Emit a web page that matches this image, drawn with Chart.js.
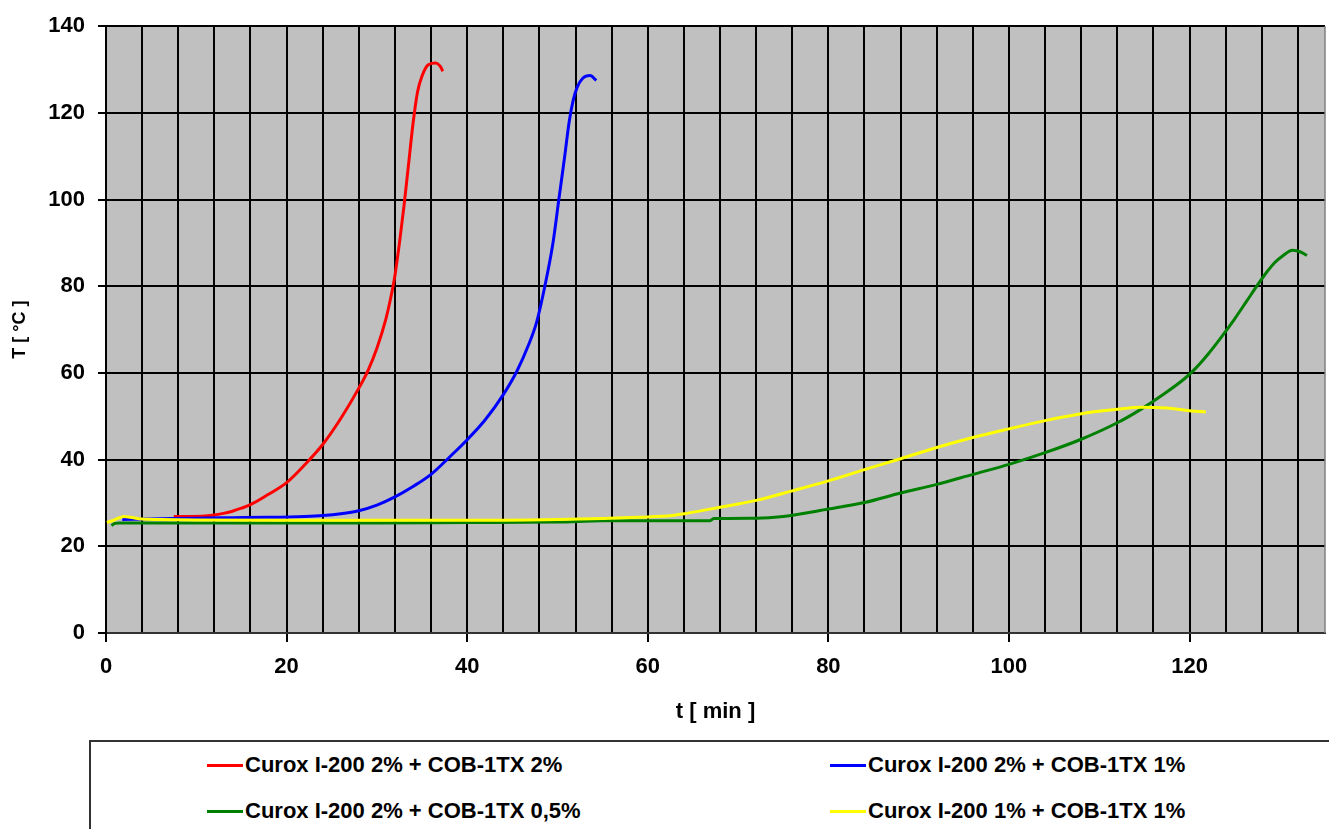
<!DOCTYPE html>
<html>
<head>
<meta charset="utf-8">
<script src="https://cdn.jsdelivr.net/npm/chart.js@4/dist/chart.umd.min.js"></script>
<style>
html,body{margin:0;padding:0;background:#fff;width:1329px;height:829px;overflow:hidden;font-family:"Liberation Sans",Arial,sans-serif;}
#wrap{position:absolute;left:0;top:0;width:1329px;height:740px;}
#legend{position:absolute;left:89px;top:740px;width:1300px;height:150px;border:2px solid #333;box-sizing:border-box;}
.item{position:absolute;display:flex;align-items:center;font-weight:bold;font-size:22px;color:#000;white-space:nowrap;height:30px;line-height:30px;}
.sw{width:36px;height:3px;margin-right:2px;}
</style>
</head>
<body>
<div id="wrap"><canvas id="c" width="1329" height="740"></canvas></div>
<div id="legend"></div>
<script>
// ---- data ----
const seriesLabels = [
  'Curox I-200 2% + COB-1TX 2%',
  'Curox I-200 2% + COB-1TX 1%',
  'Curox I-200 2% + COB-1TX 0,5%',
  'Curox I-200 1% + COB-1TX 1%'
];
const redX = [7.5, 9, 11, 12, 13, 14, 15, 16, 18, 20, 22, 24, 26, 28, 29, 30, 31, 31.5, 32, 32.5, 33, 33.5, 34, 34.5, 35, 35.7, 36.5, 37, 37.3];
const redY = [26.9, 26.9, 27.0, 27.2, 27.6, 28.1, 28.8, 29.6, 32.0, 34.7, 38.8, 43.5, 49.5, 56.5, 60.5, 65.7, 72.5, 77, 82.5, 90, 98.5, 108, 117.5, 124.8, 128.5, 131.1, 131.5, 130.8, 129.6];
const blueX = [1.8, 5, 10, 14, 18, 22, 24, 26, 28, 30, 32, 34, 36, 38, 40, 42, 44, 45.5, 46.8, 47.7, 48.6, 49.5, 50.15, 50.8, 51.3, 51.75, 52.2, 52.8, 53.6, 54.3];
const blueY = [26.2, 26.3, 26.5, 26.6, 26.7, 26.9, 27.1, 27.5, 28.2, 29.5, 31.4, 33.8, 36.6, 40.5, 44.6, 49.2, 55, 60.4, 66.5, 71.8, 80, 90, 100, 110, 118, 123, 126, 128, 128.6, 127.5];
const greenX = [0.6, 1, 1.5, 5, 10, 20, 30, 40, 50, 55, 60, 66.9, 67.3, 72, 75, 80, 84, 88, 92, 96, 100, 104, 108, 112, 114.6, 117.2, 119.4, 120.5, 122, 123.5, 125, 126.4, 127.5, 128.6, 129.5, 130.3, 131.4, 132.3, 133];
const greenY = [24.8, 25.3, 25.4, 25.4, 25.4, 25.4, 25.4, 25.5, 25.6, 25.9, 25.9, 25.9, 26.4, 26.5, 26.9, 28.6, 30.1, 32.3, 34.3, 36.6, 38.9, 41.6, 44.7, 48.5, 51.6, 55.2, 58.6, 60.7, 64.2, 68.2, 72.5, 76.8, 80.2, 83.4, 85.6, 87.0, 88.3, 87.9, 87.1];
const yellowX = [0.1, 0.8, 1.5, 2.0, 2.7, 4, 6, 10, 20, 30, 40, 50, 55, 59, 62.7, 64.3, 68, 72, 76, 80, 84, 88, 92, 96, 100, 104, 108, 112, 114.6, 117.5, 120, 121.8];
const yellowY = [25.5, 26.0, 26.6, 26.9, 26.7, 26.3, 26.2, 26.1, 26.0, 26.0, 26.0, 26.2, 26.4, 26.7, 27.1, 27.6, 29.0, 30.6, 32.8, 35.1, 37.7, 40.2, 42.8, 45.1, 47.1, 49.0, 50.6, 51.6, 52.1, 51.9, 51.3, 51.0];
const xTickLabels = [0, 20, 40, 60, 80, 100, 120];
const xGridValues = [0,4,8,12,16,20,24,28,32,36,40,44,48,52,56,60,64,68,72,76,80,84,88,92,96,100,104,108,112,116,120,124,128,132];
const yTickLabels = [0, 20, 40, 60, 80, 100, 120, 140];

// ---- styles ----
const seriesColors = ['#FF0000', '#0000FF', '#008000', '#FFFF00'];
const drawOrder = [3, 2, 1, 0];
const FONT = '"Liberation Sans", Arial, sans-serif';

const xs = [redX, blueX, greenX, yellowX];
const ys = [redY, blueY, greenY, yellowY];

const datasets = seriesLabels.map((lab, i) => ({
  label: lab,
  data: xs[i].map((x, j) => ({x: x, y: ys[i][j]})),
  borderColor: seriesColors[i],
  backgroundColor: seriesColors[i],
  borderWidth: 3,
  pointRadius: 0,
  showLine: true,
  fill: false,
  cubicInterpolationMode: 'monotone',
  order: drawOrder[i]
}));

const plotBg = {
  id: 'plotBg',
  beforeDraw(chart) {
    const {ctx, chartArea: a} = chart;
    ctx.save();
    ctx.fillStyle = '#C0C0C0';
    ctx.fillRect(a.left, a.top, a.right - a.left, a.bottom - a.top);
    ctx.restore();
  },
  beforeDatasetsDraw(chart) {
    const {ctx, chartArea: a} = chart;
    ctx.save();
    ctx.strokeStyle = '#808080';
    ctx.lineWidth = 1.5;
    ctx.beginPath();
    ctx.moveTo(a.right, a.top);
    ctx.lineTo(a.right, a.bottom);
    ctx.stroke();
    ctx.restore();
  }
};

new Chart(document.getElementById('c'), {
  type: 'scatter',
  data: { datasets: datasets },
  plugins: [plotBg],
  options: {
    responsive: false,
    animation: false,
    layout: { padding: { left: 0, top: 23, right: 4, bottom: 0 } },
    plugins: { legend: { display: false }, tooltip: { enabled: false } },
    scales: {
      x: {
        type: 'linear', min: 0, max: 135,
        afterBuildTicks: s => { s.ticks = xGridValues.map(v => ({value: v})); },
        afterFit: s => { s.height = 107; },
        grid: {
          color: '#000', lineWidth: 2, tickLength: 9, tickWidth: 2,
          tickColor: c => (c.tick && xTickLabels.includes(c.tick.value)) ? '#000' : 'rgba(0,0,0,0)'
        },
        border: { color: '#333', width: 2 },
        ticks: {
          autoSkip: false, maxRotation: 0, minRotation: 0, padding: 12, color: '#000',
          font: { family: FONT, size: 22, weight: 'bold' },
          callback: v => xTickLabels.includes(v) ? String(v) : ''
        },
        title: {
          display: true, text: 't [ min ]', color: '#000',
          font: { family: FONT, size: 22, weight: 'bold' },
          padding: { top: 0, bottom: 15 }
        }
      },
      y: {
        type: 'linear', min: 0, max: 140,
        afterBuildTicks: s => { s.ticks = yTickLabels.map(v => ({value: v})); },
        afterFit: s => { s.width = 106; },
        grid: { color: '#000', lineWidth: 2, tickLength: 8, tickWidth: 2, tickColor: '#000' },
        border: { color: '#000', width: 2 },
        ticks: {
          padding: 13, color: '#000',
          font: { family: FONT, size: 22, weight: 'bold' }
        },
        title: {
          display: true, text: 'T [ °C ]', color: '#000',
          font: { family: FONT, size: 18, weight: 'bold' },
          padding: { top: 9, bottom: 0 }
        }
      }
    }
  }
});

// HTML legend built from the dataset labels
const legendPos = [[116, 8], [739, 8], [116, 54], [739, 54]];
const lg = document.getElementById('legend');
seriesLabels.forEach((lab, i) => {
  const it = document.createElement('div');
  it.className = 'item';
  it.style.left = legendPos[i][0] + 'px';
  it.style.top = legendPos[i][1] + 'px';
  const sw = document.createElement('span');
  sw.className = 'sw';
  sw.style.background = seriesColors[i];
  const tx = document.createElement('span');
  tx.textContent = lab;
  it.appendChild(sw);
  it.appendChild(tx);
  lg.appendChild(it);
});
</script>
</body>
</html>
